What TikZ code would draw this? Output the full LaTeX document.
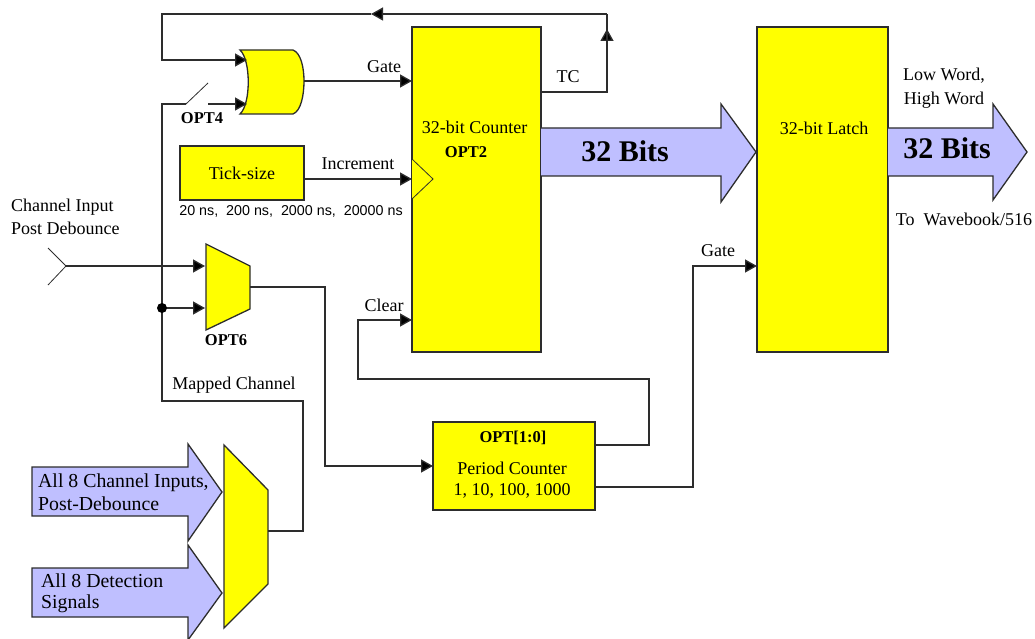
\documentclass[tikz,border=0pt]{standalone}
\usepackage{fontspec}
\setmainfont{Liberation Serif}
\newfontfamily\smallsans{Liberation Sans}
\usetikzlibrary{arrows.meta}
\definecolor{partyellow}{RGB}{255,255,0}
\definecolor{busblue}{RGB}{191,191,255}
\definecolor{wiregray}{RGB}{45,45,45}
\tikzset{
    wire/.style={draw=wiregray,line width=1.3pt,line join=miter},
    sig/.style={wire,-{Triangle[length=12pt,width=13pt,fill=black]}},
    part/.style={draw=wiregray,line width=1.3pt,fill=partyellow},
    block/.style={part,rectangle,inner sep=0pt,outer sep=0pt},
    bus/.style={draw=wiregray,line width=1.3pt,fill=busblue,line join=miter},
    lbl/.style={inner sep=0pt,font=\fontsize{18}{20}\selectfont,text=black},
    widelbl/.style={lbl,anchor=west,font=\fontsize{19.8}{22}\selectfont},
    optlbl/.style={lbl,font=\fontsize{16.5}{18}\selectfont\bfseries},
    buslbl/.style={lbl,font=\fontsize{30}{32}\selectfont\bfseries},
}
\begin{document}
\begin{tikzpicture}[x=1pt,y=-1pt]
    \useasboundingbox (0,0) rectangle (1035,639);
    % blocks
    \node [block,minimum width=129pt,minimum height=325pt] (counter) at (476.5,189.5) {};
    \node [block,minimum width=131pt,minimum height=325pt] (latch) at (822.5,189.5) {};
    \node [block,minimum width=124pt,minimum height=54pt] (tick) at (242,173) {};
    \node [block,minimum width=162pt,minimum height=88pt] (period) at (514,466) {};
    % clock mark
    \draw [draw=wiregray,line width=0.8pt,fill=partyellow] (412,159) -- (433,179) -- (412,199);
    % gates
    \draw [part] (240,50) -- (293,50) .. controls (301,53) and (304,68) .. (304,81)
        .. controls (304,95) and (301,111) .. (293,114) -- (240,114)
        .. controls (251,104) and (251,60) .. (240,50) -- cycle;
    \draw [part] (206,244) -- (250,266) -- (250,309) -- (206,330) -- cycle;
    \draw [part] (224,445) -- (268,490) -- (268,584) -- (224,628) -- cycle;
    % ports
    \coordinate (orout) at (304,81);
    \coordinate (orina) at (247,60);
    \coordinate (orinb) at (247,104);
    \coordinate (swa) at (186,104);
    \coordinate (swb) at (208,104);
    \coordinate (swtop) at (208,83);
    \coordinate (trunk) at (162,104);
    \coordinate (dot) at (162,308);
    \coordinate (horn) at (66,266);
    \coordinate (muxa) at (205,266);
    \coordinate (muxb) at (205,308);
    \coordinate (muxout) at (250,287);
    \coordinate (mapout) at (268,531);
    % wires
    \draw [sig] (counter.east |- 0,92) -- (607,92) -- (607,29);
    \draw [wire] (607,92) -- (607,14);
    \draw [sig] (607,14) -- (371,14);
    \draw [sig] (371,14) -- (162,14) -- (162,60) -- (orina);
    \draw [sig] (orout) -- (orout -| counter.west);
    \draw [sig] (tick.east |- 0,179) -- (counter.west |- 0,179);
    \draw [wire] (mapout) -- (303,531) -- (303,401) -- (162,401) -- (trunk) -- (swa);
    \draw [draw=wiregray,line width=0.8pt] (swa) -- (swtop);
    \draw [sig] (swb) -- (orinb);
    \draw [draw=wiregray,line width=0.8pt] (48,248) -- (horn) -- (48,285);
    \draw [sig] (horn) -- (muxa);
    \draw [sig] (dot) -- (muxb);
    \fill [black] (dot) circle (5pt);
    \draw [sig] (muxout) -- (325,287) -- (325,466) -- (period.west);
    \draw [sig] (period.east |- 0,445) -- (649,445) -- (649,379) -- (358,379) -- (358,320) -- (counter.west |- 0,320);
    \draw [sig] (period.east |- 0,487) -- (693,487) -- (693,266) -- (latch.west |- 0,266);
    % buses
    \draw [bus] (541,128) -- (721,128) -- (721,104) -- (756,152) -- (721,202) -- (721,176) -- (541,176);
    \draw [bus] (888,128) -- (993,128) -- (993,104) -- (1027,152) -- (993,200) -- (993,176) -- (888,176);
    \draw [bus] (32,467) -- (188,467) -- (188,444) -- (222,492) -- (188,541) -- (188,516) -- (32,516) -- cycle;
    \draw [bus] (32,568) -- (188,568) -- (188,545) -- (222,593) -- (188,640) -- (188,617) -- (32,617) -- cycle;
    % lecter
    \node [lbl] (countertxt) at (474.5,127) {32-bit Counter};
    \node [optlbl] (opttwo) at (466,152) {OPT2};
    \node [lbl] (latchtxt) at (824,128) {32-bit Latch};
    \node [lbl] (ticktxt) at (242,173) {Tick-size};
    \node [lbl,font=\smallsans\fontsize{14.3}{16}\selectfont] (ticksizes) at (291,211) {20 ns,\ \ 200 ns,\ \ 2000 ns,\ \ 20000 ns};
    \node [optlbl] (optperiod) at (513,438) {OPT[1:0]};
    \node [lbl] (periodtxt) at (512,468) {Period Counter};
    \node [lbl] (divtxt) at (512,491) {1, 10, 100, 1000};
    \node [lbl] (gatetxt) at (384,67) {Gate};
    \node [lbl] (incrtxt) at (358,164) {Increment};
    \node [lbl] (cleartxt) at (384,305) {Clear};
    \node [lbl] (tctxt) at (568,77) {TC};
    \node [lbl] (gatetwotxt) at (718,251) {Gate};
    \node [optlbl] (optfour) at (202,118) {OPT4};
    \node [optlbl] (optsix) at (226,340) {OPT6};
    \node [lbl] (maptxt) at (234,385) {Mapped Channel};
    \node [lbl,anchor=west] (chantxt) at (11,207) {Channel Input};
    \node [lbl,anchor=west] (posttxt) at (11,228) {Post Debounce};
    \node [widelbl] (allchan) at (38,483) {All 8 Channel Inputs,};
    \node [widelbl] (debtxt) at (38,504) {Post-Debounce};
    \node [widelbl] (alldet) at (41,581) {All 8 Detection};
    \node [widelbl] (sigtxt) at (41,604) {Signals};
    \node [buslbl] (busone) at (625,151) {32 Bits};
    \node [buslbl] (bustwo) at (947,148) {32 Bits};
    \node [lbl] (lowtxt) at (944,76) {Low Word,};
    \node [lbl] (hightxt) at (944,100) {High Word};
    \node [lbl] (totxt) at (964,219) {To\ \ Wavebook/516};
\end{tikzpicture}
\end{document}
